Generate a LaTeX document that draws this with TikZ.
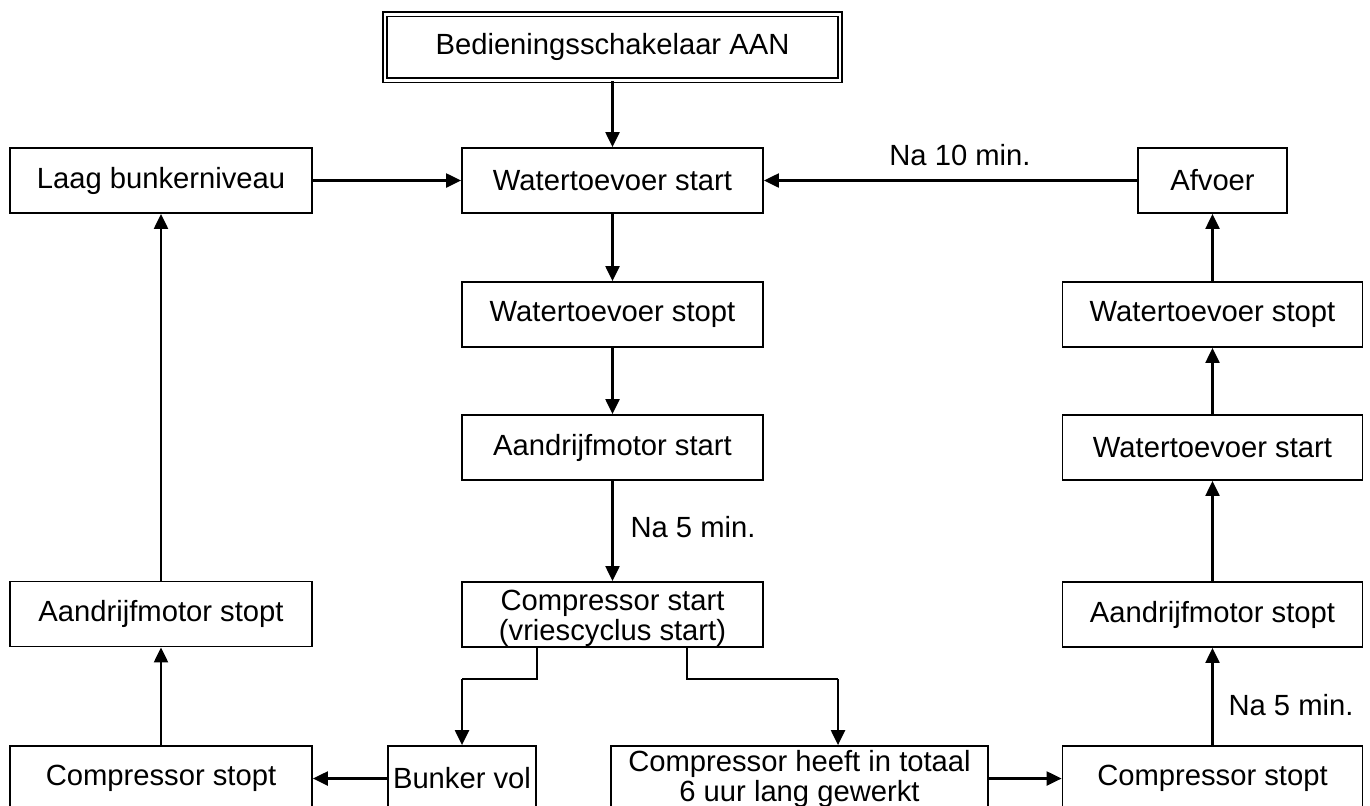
\documentclass[tikz,border=0pt]{standalone}
\usepackage{fontspec}
\setmainfont{Liberation Sans}
\usetikzlibrary{arrows.meta}
\begin{document}
\begin{tikzpicture}[x=0.5pt,y=-0.5pt,
  box/.style={draw,line width=0.9pt,inner sep=0pt,minimum height=32.5pt,align=center,
    font=\fontsize{14.6}{15}\selectfont},
  arr/.style={-{Triangle[length=7.5pt,width=7pt]},line width=1.1pt},
  thinline/.style={line width=0.7pt},
  lbl/.style={inner sep=0pt,font=\fontsize{14.6}{15}\selectfont}]
\useasboundingbox (0,0) rectangle (1370,805);
\clip (0,0) rectangle (1370,805);
% nodes
\node[box,double,double distance=1.4pt,line width=0.8pt,minimum width=227.5pt,minimum height=33pt] (on) at (612.5,47.2) {Bedieningsschakelaar AAN};
\node[box,minimum width=150.5pt] (ws) at (612.5,180.5) {Watertoevoer start};
\node[box,minimum width=151pt] (laag) at (161,180.5) {Laag bunkerniveau};
\node[box,minimum width=74.5pt] (afv) at (1212.5,180.5) {Afvoer};
\node[box,minimum width=150.5pt] (wst) at (612.5,314.5) {Watertoevoer stopt};
\node[box,minimum width=150.5pt] (as) at (612.5,447.5) {Aandrijfmotor start};
\node[box,minimum width=150.5pt] (cs) at (612.5,614.5) {\rule{0pt}{14.5pt}Compressor start\\(vriescyclus start)};
\node[box,minimum width=150pt] (wstr) at (1212.5,314.5) {Watertoevoer stopt};
\node[box,minimum width=150pt] (wsr) at (1212.5,447.5) {Watertoevoer start};
\node[box,minimum width=150pt] (amsr) at (1212.5,614.5) {Aandrijfmotor stopt};
\node[box,minimum width=151pt] (amsl) at (161,614) {Aandrijfmotor stopt};
\node[box,minimum width=151pt] (csl) at (161,778.5) {Compressor stopt};
\node[box,minimum width=74pt] (bv) at (462,778.5) {Bunker vol};
\node[box,minimum width=188.5pt] (ch) at (799.5,778.5) {Compressor heeft in totaal\\6 uur lang gewerkt};
\node[box,minimum width=150pt] (csr) at (1212.5,778.5) {Compressor stopt};
% labels
\node[lbl] (l10) at (960,155) {Na 10 min.};
\node[lbl] (l5a) at (693,527) {Na 5 min.};
\node[lbl] (l5b) at (1291,705) {Na 5 min.};
% connectors
\draw[arr] (on) -- (ws);
\draw[arr] (laag) -- (ws);
\draw[arr] (afv.west) -- (afv.west -| ws.east);
\draw[arr] (ws) -- (wst);
\draw[arr] (wst) -- (as);
\draw[arr] (as) -- (cs);
\draw[arr] (csr) -- (amsr);
\draw[arr] (amsr) -- (wsr);
\draw[arr] (wsr) -- (wstr);
\draw[arr] (wstr) -- (afv);
\draw[arr] (csl) -- (amsl);
\draw[arr] (amsl) -- (laag);
\draw[arr] (bv.west |- csl) -- (csl.east);
\draw[arr] (ch.east |- csr) -- (csr.west);
% branches
\coordinate (b1) at (537,679);
\coordinate (b2) at (687,679);
\coordinate (b3) at (838,679);
\draw[thinline] (cs.south -| b1) -- (b1) -- (b1 -| bv.north);
\draw[arr] (b1 -| bv.north) -- (bv.north);
\draw[thinline] (cs.south -| b2) -- (b2) -- (b3);
\draw[arr] (b3) -- (b3 |- ch.north);
\end{tikzpicture}
\end{document}
